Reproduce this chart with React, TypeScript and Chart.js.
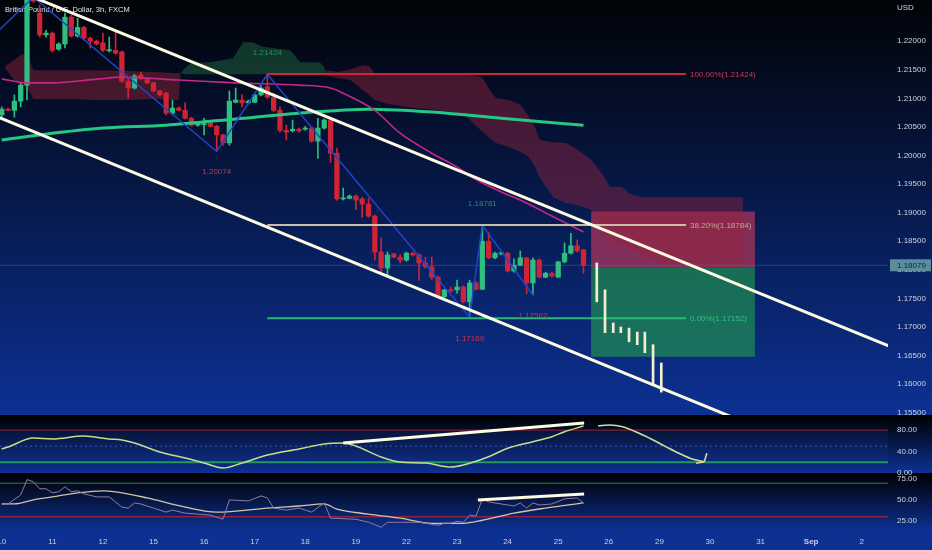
import React, { useEffect, useRef } from 'react';
import { Chart, registerables } from 'chart.js';

Chart.register(...registerables);

// ---------- axis labels ----------
const dayLabels = ['10', '11', '12', '15', '16', '17', '18', '19', '22', '23', '24', '25', '26', '29', '30', '31', 'Sep', '2'];
const barsPerDay = 8;
const priceTicks = [1.155, 1.16, 1.165, 1.17, 1.175, 1.18, 1.185, 1.19, 1.195, 1.2, 1.205, 1.21, 1.215, 1.22];
const stochTicks = [0, 40, 80];
const rsiTicks = [25, 50, 75];
const titleText = 'British Pound / U.S. Dollar, 3h, FXCM';
const currencyText = 'USD';

// ---------- candles (3h GBPUSD) ----------
const openP = [1.2071, 1.2081, 1.2079, 1.2095, 1.2123, 1.2273, 1.2249, 1.2211, 1.2214, 1.2186,
  1.2195, 1.2242, 1.2209, 1.2224, 1.2205, 1.2200, 1.2197, 1.2183, 1.2184, 1.2181,
  1.2130, 1.2118, 1.2141, 1.2134, 1.2127, 1.2113, 1.2109, 1.2074, 1.2083, 1.2079,
  1.2065, 1.2053, 1.2054, 1.2057, 1.2051, 1.2036, 1.2022, 1.2093, 1.2097, 1.2092,
  1.2093, 1.2106, 1.2120, 1.2102, 1.2079, 1.2044, 1.2043, 1.2046, 1.2046, 1.2048,
  1.2025, 1.2048, 1.2062, 1.2004, 1.1924, 1.1925, 1.1929, 1.1924, 1.1915, 1.1894,
  1.1831, 1.1803, 1.1828, 1.1822, 1.1817, 1.1829, 1.1826, 1.1812, 1.1805, 1.1787,
  1.1753, 1.1765, 1.1765, 1.1770, 1.1744, 1.1777, 1.1766, 1.1850, 1.1821, 1.1828,
  1.1829, 1.1798, 1.1808, 1.1821, 1.1777, 1.1817, 1.1787, 1.1794, 1.1787, 1.1814,
  1.1829, 1.1842, 1.1835];
const highP = [1.2085, 1.2083, 1.2106, 1.2127, 1.2275, 1.2277, 1.2263, 1.2219, 1.2216, 1.2197,
  1.2249, 1.2245, 1.2240, 1.2226, 1.2207, 1.2202, 1.2214, 1.2207, 1.2216, 1.2183,
  1.2137, 1.2142, 1.2146, 1.2135, 1.2128, 1.2114, 1.2111, 1.2097, 1.2085, 1.2092,
  1.2067, 1.2058, 1.2065, 1.2058, 1.2053, 1.2037, 1.2113, 1.2118, 1.2106, 1.2097,
  1.2107, 1.2123, 1.2142, 1.2109, 1.2085, 1.2053, 1.2062, 1.2048, 1.2051, 1.2050,
  1.2065, 1.2064, 1.2065, 1.2013, 1.1943, 1.1931, 1.1931, 1.1927, 1.1925, 1.1896,
  1.1856, 1.1831, 1.1829, 1.1826, 1.1831, 1.1831, 1.1828, 1.1822, 1.1822, 1.1789,
  1.1766, 1.1770, 1.1782, 1.1772, 1.1782, 1.1779, 1.1878, 1.1866, 1.1831, 1.1831,
  1.1831, 1.1819, 1.1833, 1.1822, 1.1821, 1.1819, 1.1796, 1.1796, 1.1815, 1.1847,
  1.1864, 1.1852, 1.1836];
const lowP = [1.2067, 1.2078, 1.2067, 1.2085, 1.2097, 1.2268, 1.2207, 1.2207, 1.2181, 1.2184,
  1.2188, 1.2207, 1.2207, 1.2204, 1.2188, 1.2193, 1.2181, 1.2181, 1.2177, 1.2128,
  1.2100, 1.2116, 1.2132, 1.2125, 1.2111, 1.2104, 1.2071, 1.2071, 1.2078, 1.2064,
  1.2051, 1.2051, 1.2036, 1.2050, 1.2007, 1.2018, 1.2018, 1.2092, 1.2085, 1.2090,
  1.2092, 1.2104, 1.2100, 1.2076, 1.2041, 1.2027, 1.2041, 1.2041, 1.2044, 1.2023,
  1.1995, 1.2046, 1.1988, 1.1922, 1.1922, 1.1924, 1.1905, 1.1892, 1.1892, 1.1817,
  1.1796, 1.1791, 1.1821, 1.1812, 1.1815, 1.1824, 1.1782, 1.1803, 1.1782, 1.1751,
  1.1751, 1.1761, 1.1759, 1.1742, 1.1717, 1.1765, 1.1765, 1.1819, 1.1819, 1.1826,
  1.1796, 1.1796, 1.1807, 1.1758, 1.1756, 1.1786, 1.1786, 1.1787, 1.1786, 1.1812,
  1.1828, 1.1831, 1.1794];
const closeP = [1.2081, 1.2079, 1.2095, 1.2123, 1.2272, 1.2270, 1.2211, 1.2214, 1.2184, 1.2195,
  1.2242, 1.2209, 1.2224, 1.2205, 1.2200, 1.2195, 1.2184, 1.2185, 1.2179, 1.2130,
  1.2118, 1.2139, 1.2134, 1.2127, 1.2113, 1.2106, 1.2074, 1.2083, 1.2079, 1.2065,
  1.2053, 1.2057, 1.2055, 1.2051, 1.2036, 1.2022, 1.2095, 1.2097, 1.2092, 1.2095,
  1.2106, 1.2118, 1.2102, 1.2079, 1.2044, 1.2041, 1.2046, 1.2043, 1.2048, 1.2025,
  1.2048, 1.2062, 1.2004, 1.1924, 1.1925, 1.1929, 1.1922, 1.1915, 1.1894, 1.1831,
  1.1803, 1.1826, 1.1822, 1.1817, 1.1829, 1.1826, 1.1812, 1.1805, 1.1787, 1.1753,
  1.1765, 1.1763, 1.1770, 1.1744, 1.1777, 1.1766, 1.1850, 1.1821, 1.1829, 1.1829,
  1.1798, 1.1808, 1.1821, 1.1777, 1.1817, 1.1787, 1.1794, 1.1789, 1.1814, 1.1829,
  1.1842, 1.1833, 1.1808];
const lastPrice = 1.18079;

// ---------- moving averages ----------
const maFastX = [0, 4, 8, 15.5, 19, 28, 37, 47, 52, 54, 59, 63, 68, 72, 74.5, 79, 82, 87, 92];
const maFastY = [1.2134, 1.2127, 1.2127, 1.2134, 1.2137, 1.2132, 1.2127, 1.2123, 1.2118, 1.2109, 1.2079, 1.2039, 1.2004, 1.1980, 1.1961, 1.1936, 1.1922, 1.1894, 1.1866];
const maSlowX = [0, 6, 16, 26, 37, 47, 58, 68, 79, 92];
const maSlowY = [1.2027, 1.2036, 1.2048, 1.2053, 1.2064, 1.2074, 1.2081, 1.2076, 1.2065, 1.2053];

// ---------- ichimoku cloud ----------
const cloud1X = [0.5, 2, 3, 4, 5, 10, 15, 20, 24, 28, 28.3];
const cloud1Top = [1.2156, 1.2167, 1.2176, 1.2179, 1.2149, 1.2149, 1.2149, 1.2148, 1.2146, 1.2144, 1.2144];
const cloud1Bot = [1.2153, 1.2132, 1.2123, 1.2120, 1.2099, 1.2099, 1.2097, 1.2097, 1.2099, 1.2097, 1.2144];
const cloud2X = [28.3, 29, 30, 33, 36.6, 37.7, 38.2, 39.7, 41.3, 45.6, 47.2, 50.3, 51.1];
const cloud2Top = [1.2144, 1.2153, 1.2162, 1.2163, 1.2170, 1.2190, 1.2198, 1.2198, 1.2190, 1.2184, 1.2163, 1.2163, 1.2153];
const cloud2Bot = [1.2144, 1.2142, 1.2142, 1.2142, 1.2142, 1.2142, 1.2142, 1.2142, 1.2142, 1.2142, 1.2142, 1.2142, 1.2142];
const cloud3X = [51.1, 53.2, 55.1, 56.2, 57.1, 58.1, 59, 61.1, 64.1, 70.1, 73.1, 75.2, 76.1, 77.2, 78.2, 80.2, 82.1, 83.2, 84.2, 85.1, 87.2, 89.2, 91.1, 93.2, 95.1, 96.2, 98.1, 99.2, 101.1, 104.1, 108.1, 111.2, 117.2];
const cloud3Top = [1.2149, 1.2146, 1.2151, 1.2155, 1.2158, 1.2156, 1.2144, 1.2142, 1.2142, 1.2142, 1.2142, 1.2139, 1.2135, 1.2114, 1.2100, 1.2097, 1.2088, 1.2071, 1.2053, 1.2027, 1.2023, 1.2022, 1.2010, 1.1992, 1.1966, 1.1945, 1.1945, 1.1934, 1.1927, 1.1927, 1.1927, 1.1927, 1.1927];
const cloud3Bot = [1.2141, 1.2135, 1.2132, 1.2123, 1.2114, 1.2106, 1.2097, 1.2090, 1.2085, 1.2078, 1.2072, 1.2050, 1.2041, 1.2030, 1.2022, 1.2015, 1.2006, 1.1999, 1.1983, 1.1961, 1.1927, 1.1917, 1.1913, 1.1905, 1.1861, 1.1852, 1.1843, 1.1838, 1.1826, 1.1812, 1.1807, 1.1803, 1.1803];

// ---------- drawings ----------
const zigX = [-4, 5, 34, 42, 74, 76, 84];
const zigY = [1.2181, 1.2277, 1.2007, 1.2142, 1.1717, 1.1878, 1.1756];
const pivotX = [42, 34, 76, 74, 84];
const pivotPrice = [1.21424, 1.20074, 1.18781, 1.17169, 1.17562];
const pivotIsHigh = [true, false, true, false, false];
const channelUpperX = [-5, 142];
const channelUpperY = [1.2322, 1.1659];
const channelLowerX = [-5, 120];
const channelLowerY = [1.2087, 1.1522];
const fibStart = 42;
const fibEnd = 108.2;
const fibLevels = [1.21424, 1.18784, 1.17152];
const fibTexts = ['100.00%(1.21424)', '38.20%(1.18784)', '0.00%(1.17152)'];
const fibLineColors = ['#c8283c', '#c9bfa8', '#2ab673'];
const fibTextColors = ['#d3364a', '#c9a79d', '#36c07e'];
const boxStart = 93.2;
const boxEnd = 119.1;
const stopPrice = 1.1902;
const entryPrice = 1.1803;
const targetPrice = 1.1648;
const ghostX = [94.1, 95.4, 96.7, 97.9, 99.2, 100.5, 101.7, 103.0, 104.3];
const ghostLow = [1.1744, 1.1690, 1.1690, 1.1690, 1.1674, 1.1669, 1.1655, 1.1599, 1.1586];
const ghostHigh = [1.1812, 1.1765, 1.1707, 1.1700, 1.1698, 1.1691, 1.1691, 1.1669, 1.1637];

// ---------- stoch pane ----------
const stochX = [0, 1, 5, 8, 13, 17, 19, 21, 25, 29, 32, 35, 38, 42, 47, 51, 54, 56, 60, 63, 67, 71, 73, 77, 80, 84, 87, 89, 92];
const stochV = [44.7, 48.4, 65.1, 63.3, 68.8, 63.3, 61.4, 55.8, 39.1, 27.9, 18.6, 9.3, 18.6, 33.5, 44.7, 54, 55.8, 50.2, 29.8, 20.5, 18.6, 11.2, 14.9, 30.3, 46, 58.2, 67.6, 76.9, 87.4];
const stochTrendX = [54, 92.1];
const stochTrendV = [55.8, 93.0];
const arrowX = [94.3, 96.1, 98.2, 100.8, 103.0, 105.0, 107.1, 109.3, 111.1];
const arrowV = [88.0, 89.3, 86.1, 73.9, 61.4, 49.1, 36.6, 25.5, 21.0];
const arrowHeadAX = [111.5, 111.1];
const arrowHeadAV = [36.6, 21.0];
const arrowHeadBX = [109.8, 111.1];
const arrowHeadBV = [18.0, 21.0];

// ---------- RSI pane ----------
const rsiX = [0, 1, 3, 4, 5, 6, 7, 8, 9, 10, 11, 12, 13, 15, 17, 18, 19, 20, 21, 22, 24, 26, 27, 29, 33, 35, 36, 39, 41, 42, 43, 45, 47, 49, 51, 52, 56, 58, 60, 61, 63, 66, 69, 70, 71, 72, 73, 74, 75, 76, 77, 78, 80, 81, 82, 83, 84, 85, 87, 89, 91, 92];
const rsiV = [44.8, 45.2, 56, 74.2, 71.7, 63.3, 63.3, 58.5, 59.7, 65.7, 59.7, 60.9, 57.2, 53.6, 53.6, 47.6, 41.5, 40.3, 46.4, 45.2, 40.3, 35.5, 37.9, 34.3, 31.9, 27, 50, 48.8, 54.8, 52.4, 40.3, 37.9, 40.3, 35.5, 46.4, 28.3, 27, 23.4, 17.4, 23.4, 23.4, 23.4, 19.8, 22.2, 22.2, 24.6, 23.4, 31.9, 30.7, 51.2, 47.6, 46.4, 44, 42.8, 46.4, 40.3, 46.4, 44, 45.2, 51.2, 52.4, 46.4];
const rsiMaX = [0, 2, 5, 8, 12, 16, 18, 23, 29, 34, 42, 47, 51, 53, 58, 63, 68, 73, 76, 81, 86, 92];
const rsiMaV = [45.2, 45.2, 50, 53.6, 58.5, 60.9, 59.7, 52.4, 41.5, 35.5, 40.3, 42.8, 45.2, 39.1, 33.1, 28.3, 22.2, 22.2, 25.8, 34.3, 40.3, 46.4];
const rsiTrendX = [75.3, 92.1];
const rsiTrendV = [49.9, 57.1];

const FONT = "'Liberation Sans', Arial, Helvetica, sans-serif";
const GREEN = '#2dbe80';
const RED = '#cf2435';
const CREAM = '#fffbe3';
const X_MIN = -0.272;
const X_MAX = 140.15;

export default function App() {
  const canvasRef = useRef<HTMLCanvasElement | null>(null);

  useEffect(() => {
    document.body.style.margin = '0';
    document.body.style.background = '#0c3192';
    const canvas = canvasRef.current;
    if (!canvas) return;

    const pts = (xs: number[], ys: number[]) => xs.map((x, k) => ({ x, y: ys[k] }));
    const candleColors = openP.map((o, i) => (closeP[i] >= o ? GREEN : RED));
    const bodies = openP.map((o, i) => ({ x: i, y: [o, closeP[i]] }));
    const wicks = openP.map((_, i) => ({ x: i, y: [lowP[i], highP[i]] }));
    const ghosts = ghostX.map((x, k) => ({ x, y: [ghostLow[k], ghostHigh[k]] }));
    const T = 'rgba(0,0,0,0)';
    const ln = (data: any[], color: string, width: number, order: number, axis = 'y', extra: any = {}) => ({
      type: 'line', data, borderColor: color, borderWidth: width, pointRadius: 0,
      fill: false, tension: 0, order, yAxisID: axis, ...extra,
    });
    const full = (v: number) => pts([X_MIN, X_MAX], [v, v]);

    const datasets: any[] = [
      // position tool
      ln(pts([boxStart, boxEnd], [stopPrice, stopPrice]), T, 1, 100, 'y', { fill: { value: entryPrice }, backgroundColor: 'rgba(230,60,90,0.55)' }),
      ln(pts([boxStart, boxEnd], [entryPrice, entryPrice]), T, 1, 100, 'y', { fill: { value: targetPrice }, backgroundColor: 'rgba(35,160,75,0.6)' }),
      // clouds
      ln(pts(cloud1X, cloud1Top), T, 1, 95, 'y', { fill: '+1', backgroundColor: 'rgba(150,35,55,0.45)' }),
      ln(pts(cloud1X, cloud1Bot), T, 1, 95),
      ln(pts(cloud2X, cloud2Top), T, 1, 95, 'y', { fill: '+1', backgroundColor: 'rgba(40,120,70,0.42)' }),
      ln(pts(cloud2X, cloud2Bot), T, 1, 95),
      ln(pts(cloud3X, cloud3Top), T, 1, 95, 'y', { fill: '+1', backgroundColor: 'rgba(150,35,60,0.45)' }),
      ln(pts(cloud3X, cloud3Bot), T, 1, 95),
      // last price line
      ln(full(lastPrice), 'rgba(80,120,200,0.4)', 1, 90),
      // candles
      { type: 'bar', data: wicks, backgroundColor: candleColors, barThickness: 1, grouped: false, order: 62, yAxisID: 'y', borderWidth: 0 },
      { type: 'bar', data: bodies, backgroundColor: candleColors, barThickness: 4.6, minBarLength: 1, grouped: false, order: 60, yAxisID: 'y', borderWidth: 0 },
      // moving averages
      ln(pts(maSlowX, maSlowY), '#24c784', 3, 45, 'y', { cubicInterpolationMode: 'monotone' }),
      ln(pts(maFastX, maFastY), '#c4268c', 1.6, 44, 'y', { cubicInterpolationMode: 'monotone' }),
      // zigzag
      ln(pts(zigX, zigY), '#1f46c9', 1.5, 35),
      // fib lines
      ...fibLevels.map((v, k) => ln(pts([fibStart, fibEnd], [v, v]), fibLineColors[k], 2, 25)),
      // ghost bars
      { type: 'bar', data: ghosts, backgroundColor: '#f3eed2', barThickness: 2, grouped: false, order: 20, yAxisID: 'y', borderWidth: 0 },
      // channel
      ln(pts(channelUpperX, channelUpperY), CREAM, 3, 10),
      ln(pts(channelLowerX, channelLowerY), CREAM, 3, 10),

      // stoch pane
      ln(full(80), '#7c1f38', 1.3, 80, 'y1', { fill: { value: 20 }, backgroundColor: 'rgba(40,70,200,0.12)' }),
      ln(full(20), '#23985c', 2, 79, 'y1'),
      ln(full(50), 'rgba(70,100,220,0.8)', 1, 78, 'y1', { borderDash: [2, 3] }),
      ln(pts(stochX, stochV), '#c8dd8c', 1.5, 50, 'y1', { cubicInterpolationMode: 'monotone' }),
      ln(pts(stochTrendX, stochTrendV), CREAM, 3, 10, 'y1'),
      ln(pts(arrowX, arrowV), '#d4dc9c', 1.6, 12, 'y1', { cubicInterpolationMode: 'monotone' }),
      ln(pts(arrowHeadAX, arrowHeadAV), '#d4dc9c', 1.6, 12, 'y1'),
      ln(pts(arrowHeadBX, arrowHeadBV), '#d4dc9c', 1.6, 12, 'y1'),

      // RSI pane
      ln(full(70), '#1c5a36', 1.5, 80, 'y2'),
      ln(full(30), '#8a2342', 1.5, 80, 'y2'),
      ln(pts(rsiMaX, rsiMaV), '#d6c2a4', 1.3, 52, 'y2', { cubicInterpolationMode: 'monotone' }),
      ln(pts(rsiX, rsiV), '#8f7ca3', 1, 50, 'y2'),
      ln(pts(rsiTrendX, rsiTrendV), CREAM, 3, 10, 'y2'),
    ];

    const zeroPad = (s: any) => { s.paddingTop = 0; s.paddingBottom = 0; s.paddingLeft = 0; s.paddingRight = 0; };
    const yAxis = (weight: number, stackWeight: number, min: number, max: number, ticks: number[], digits: number) => ({
      type: 'linear', position: 'right', stack: 'panes', stackWeight, weight, min, max,
      grid: { display: false, drawTicks: false }, border: { display: false },
      afterBuildTicks: (s: any) => { s.ticks = ticks.map((v) => ({ value: v })); },
      afterFit: (s: any) => { s.width = 44; zeroPad(s); },
      ticks: { color: '#cdd3df', padding: 9, font: { family: FONT, size: 8 }, callback: (v: any) => Number(v).toFixed(digits) },
    });

    const overlay = {
      id: 'overlay',
      beforeDraw(chart: any) {
        const { ctx, width, height } = chart;
        ctx.save();
        ctx.fillStyle = '#0c3192';
        ctx.fillRect(0, 0, width, height);
        const panes = [chart.scales.y, chart.scales.y1, chart.scales.y2];
        const tops = ['#020307', '#000000', '#000000'];
        panes.forEach((s: any, k: number) => {
          const g = ctx.createLinearGradient(0, s.top, 0, s.bottom);
          g.addColorStop(0, tops[k]);
          g.addColorStop(1, '#0c3193');
          ctx.fillStyle = g;
          ctx.fillRect(0, s.top, width, s.bottom - s.top);
        });
        ctx.restore();
      },
      beforeDatasetsDraw(chart: any) {
        const { ctx } = chart;
        ctx.save();
        ctx.font = `7.5px ${FONT}`;
        ctx.fillStyle = '#e2e2e2';
        ctx.textAlign = 'left';
        ctx.textBaseline = 'middle';
        ctx.fillText(titleText, 5, 10);
        ctx.restore();
      },
      afterDatasetsDraw(chart: any) {
        const { ctx } = chart;
        const xs = chart.scales.x;
        const ys = chart.scales.y;
        ctx.save();
        ctx.font = `8px ${FONT}`;
        ctx.textBaseline = 'middle';
        ctx.textAlign = 'center';
        pivotX.forEach((px, k) => {
          const x = xs.getPixelForValue(px);
          const y = ys.getPixelForValue(pivotPrice[k]) + (pivotIsHigh[k] ? -21 : 21);
          ctx.fillStyle = pivotIsHigh[k] ? '#2a8d5e' : '#c2374c';
          ctx.fillText(pivotPrice[k].toFixed(5), x, y);
        });
        ctx.textAlign = 'left';
        fibLevels.forEach((v, k) => {
          ctx.fillStyle = fibTextColors[k];
          ctx.fillText(fibTexts[k], xs.getPixelForValue(fibEnd) + 4, ys.getPixelForValue(v) + 0.5);
        });
        ctx.restore();
      },
      afterDraw(chart: any) {
        const { ctx } = chart;
        const ys = chart.scales.y;
        ctx.save();
        ctx.font = `8px ${FONT}`;
        ctx.textBaseline = 'middle';
        ctx.textAlign = 'left';
        ctx.fillStyle = '#cdd3df';
        ctx.fillText(currencyText, ys.left + 9, 8);
        const y = ys.getPixelForValue(lastPrice);
        ctx.fillStyle = '#5c8d9a';
        ctx.fillRect(ys.left + 2, y - 6, 41, 12);
        ctx.fillStyle = '#0b2547';
        ctx.fillText(lastPrice.toFixed(5), ys.left + 9, y + 0.5);
        ctx.restore();
      },
    };

    const chart = new Chart(canvas, {
      type: 'bar',
      data: { datasets },
      options: {
        animation: false,
        responsive: false,
        devicePixelRatio: 1,
        events: [],
        layout: { padding: 0 },
        plugins: { legend: { display: false }, tooltip: { enabled: false } },
        scales: {
          x: {
            type: 'linear', min: X_MIN, max: X_MAX, offset: false,
            grid: { display: false, drawTicks: false }, border: { display: false },
            afterBuildTicks: (s: any) => { s.ticks = dayLabels.map((_, k) => ({ value: k * barsPerDay })); },
            afterFit: (s: any) => { s.height = 19; zeroPad(s); },
            ticks: {
              autoSkip: false, maxRotation: 0, padding: 6, color: '#c8d0e2',
              font: (c: any) => ({ family: FONT, size: 8, weight: dayLabels[c.index] === 'Sep' ? 'bold' : 'normal' }),
              callback: (_v: any, i: number) => dayLabels[i],
            },
          },
          y: yAxis(1, 415, 1.1546, 1.2272, priceTicks, 5),
          y1: yAxis(2, 58, 0, 108, stochTicks, 2),
          y2: yAxis(3, 58, 13, 82.1, rsiTicks, 2),
        },
      } as any,
      plugins: [overlay],
    } as any);

    return () => chart.destroy();
  }, []);

  return (
    <div style={{ width: 932, height: 550, overflow: 'hidden' }}>
      <canvas ref={canvasRef} width={932} height={550} style={{ display: 'block', width: 932, height: 550 }} />
    </div>
  );
}
